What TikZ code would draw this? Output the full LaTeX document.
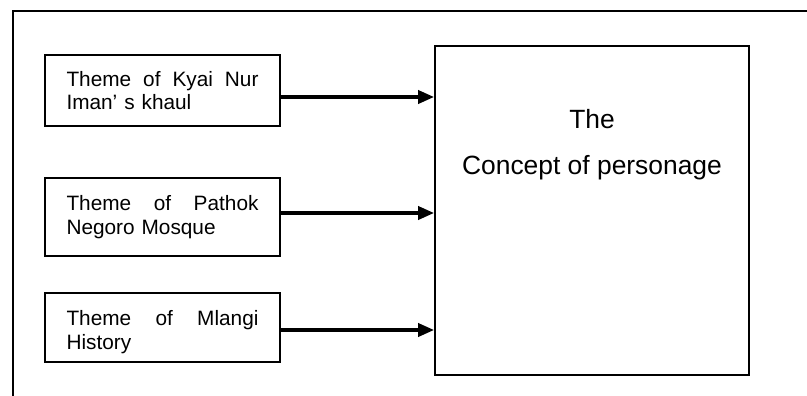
\documentclass[tikz,border=0pt]{standalone}
\usepackage{fontspec}
\setmainfont{Liberation Sans}
\usetikzlibrary{arrows.meta}

% one fully justified line of a given width
\newcommand{\fullline}[1]{\hbox to 144pt{#1}}

\begin{document}
\begin{tikzpicture}[x=0.75pt,y=-0.75pt,
  framerule/.style={line width=2.2pt},
  themebox/.style={draw,line width=1.4pt,minimum width=176.25pt,inner xsep=0pt,
    text width=144pt,align=left,
    font=\fontsize{15.6pt}{17.6pt}\selectfont},
  conceptbox/.style={draw,line width=1.5pt,minimum width=235.5pt,minimum height=246.75pt},
  feed/.style={line width=2.3pt,-{Triangle[length=12pt,width=10pt]}}]
\useasboundingbox (0,0) rectangle (807,396);

% open frame: top and left rules
\draw[framerule] (13,396) -- (13,11) -- (807,11);

% target box and its caption
\node[conceptbox] (concept) at (592,210.5) {};
\node[anchor=base,align=center,font=\fontsize{19.8pt}{34.5pt}\selectfont] (caption) at (592,174)
  {The\\Concept of personage};

% source boxes
\node[themebox,minimum height=53.25pt] (kyai) at (162.5,90.5)
  {\fullline{Theme\hfill of\hfill Kyai\hfill Nur}\\Iman’ s khaul};
\node[themebox,minimum height=58.5pt] (pathok) at (162.5,217)
  {\fullline{Theme\hfill of\hfill Pathok}\\Negoro Mosque};
% taller strut on the first line sets the text a little lower in this box
\node[themebox,minimum height=51.75pt] (mlangi) at (162.5,327.5)
  {\fullline{\rule{0pt}{18pt}Theme\hfill of\hfill Mlangi}\\History};

% connectors into the concept box
\draw[feed] (kyai.east |- 0,97) -- (concept.west |- 0,97);
\draw[feed] (pathok.east |- 0,213) -- (concept.west |- 0,213);
\draw[feed] (mlangi.east |- 0,330) -- (concept.west |- 0,330);
\end{tikzpicture}
\end{document}
